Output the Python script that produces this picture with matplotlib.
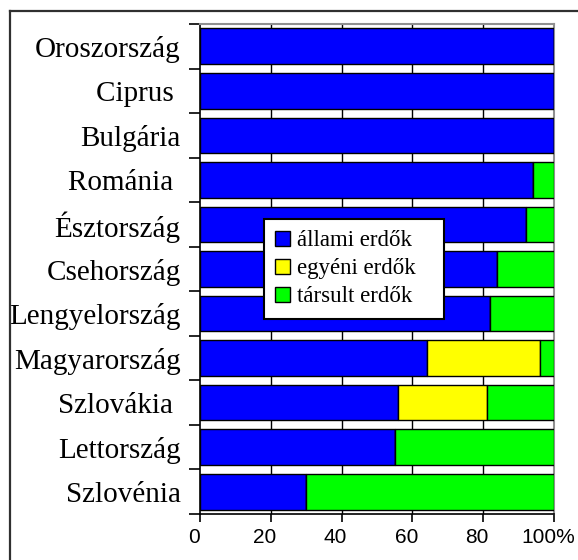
import matplotlib
matplotlib.use("Agg")
import matplotlib.pyplot as plt
import numpy as np
from matplotlib.lines import Line2D
from matplotlib.transforms import ScaledTranslation

countries = ["Oroszország", "Ciprus ", "Bulgária", "Románia ", "Észtország",
             "Csehország", "Lengyelország", "Magyarország", "Szlovákia ",
             "Lettország", "Szlovénia"]
allami = [100, 100, 100, 94, 92, 84, 82, 64, 56, 55, 30]
egyeni = [0, 0, 0, 0, 0, 0, 0, 32, 25, 0, 0]
tarsult = [0, 0, 0, 6, 8, 16, 18, 4, 19, 45, 70]
series_names = ["állami erdők", "egyéni erdők", "társult erdők"]
x_ticks = [0, 20, 40, 60, 80, 100]
x_ticklabels = ["0", "20", "40", "60", "80", "100%"]

colors = ["#0000FF", "#FFFF00", "#00FF00"]

W, H = 578, 560
fig = plt.figure(figsize=(W / 100, H / 100), dpi=100)
fig.patch.set_facecolor("white")

# outer frame (top and left visible; right/bottom run off the picture)
fig.add_artist(Line2D([10 / W, 1.0], [1 - 11 / H, 1 - 11 / H], transform=fig.transFigure,
                      color="#303030", lw=1.6))
fig.add_artist(Line2D([10 / W, 10 / W], [0.0, 1 - 11 / H], transform=fig.transFigure,
                      color="#303030", lw=1.6))

ax = fig.add_axes([200 / W, 1 - 514 / H, 354 / W, 490 / H])

y = np.arange(len(countries))
left = np.zeros(len(countries))
for vals, col, name in zip([allami, egyeni, tarsult], colors, series_names):
    ax.barh(y, vals, left=left, height=0.8, color=col, edgecolor="black",
            linewidth=1.0, label=name + "   ", zorder=3)
    left = left + np.array(vals)

ax.set_xlim(0, 100)
ax.set_ylim(len(countries) - 0.5, -0.5)

ax.set_xticks(x_ticks)
ax.set_xticklabels(x_ticklabels, fontfamily="Liberation Sans", fontsize=15)
ax.tick_params(axis="x", direction="out", length=6, width=1.2, pad=4, color="black")
shift = ScaledTranslation(-6 / 100, 0, fig.dpi_scale_trans)
for lbl in ax.get_xticklabels():
    lbl.set_transform(lbl.get_transform() + shift)

ax.set_yticks(y)
ax.set_yticklabels(countries, fontfamily="Liberation Serif", fontsize=21)
ax.tick_params(axis="y", which="major", length=0, pad=14)
ax.set_yticks(np.arange(-0.5, len(countries), 1.0), minor=True)
ax.tick_params(axis="y", which="minor", direction="out", length=8, width=1.2, color="black")

for xv in x_ticks[1:-1]:
    ax.axvline(xv, color="black", lw=1.0, zorder=1)

ax.spines["left"].set_color("black")
ax.spines["bottom"].set_color("black")
ax.spines["left"].set_linewidth(1.2)
ax.spines["bottom"].set_linewidth(1.2)
ax.spines["top"].set_color("#909090")
ax.spines["right"].set_color("#909090")
ax.spines["top"].set_linewidth(1.5)
ax.spines["right"].set_linewidth(1.5)

leg = ax.legend(loc="upper left", bbox_to_anchor=(64 / 354, 295 / 490), borderaxespad=0,
                prop={"family": "Liberation Serif", "size": 16.5}, frameon=True,
                fancybox=False, handlelength=0.62, handleheight=0.62,
                handletextpad=0.3, borderpad=0.5, labelspacing=0.3,
                framealpha=1.0, facecolor="white")
leg.get_frame().set_edgecolor("black")
leg.get_frame().set_linewidth(1.5)
leg.set_zorder(5)

fig.savefig("out.png", dpi=100, facecolor="white")
